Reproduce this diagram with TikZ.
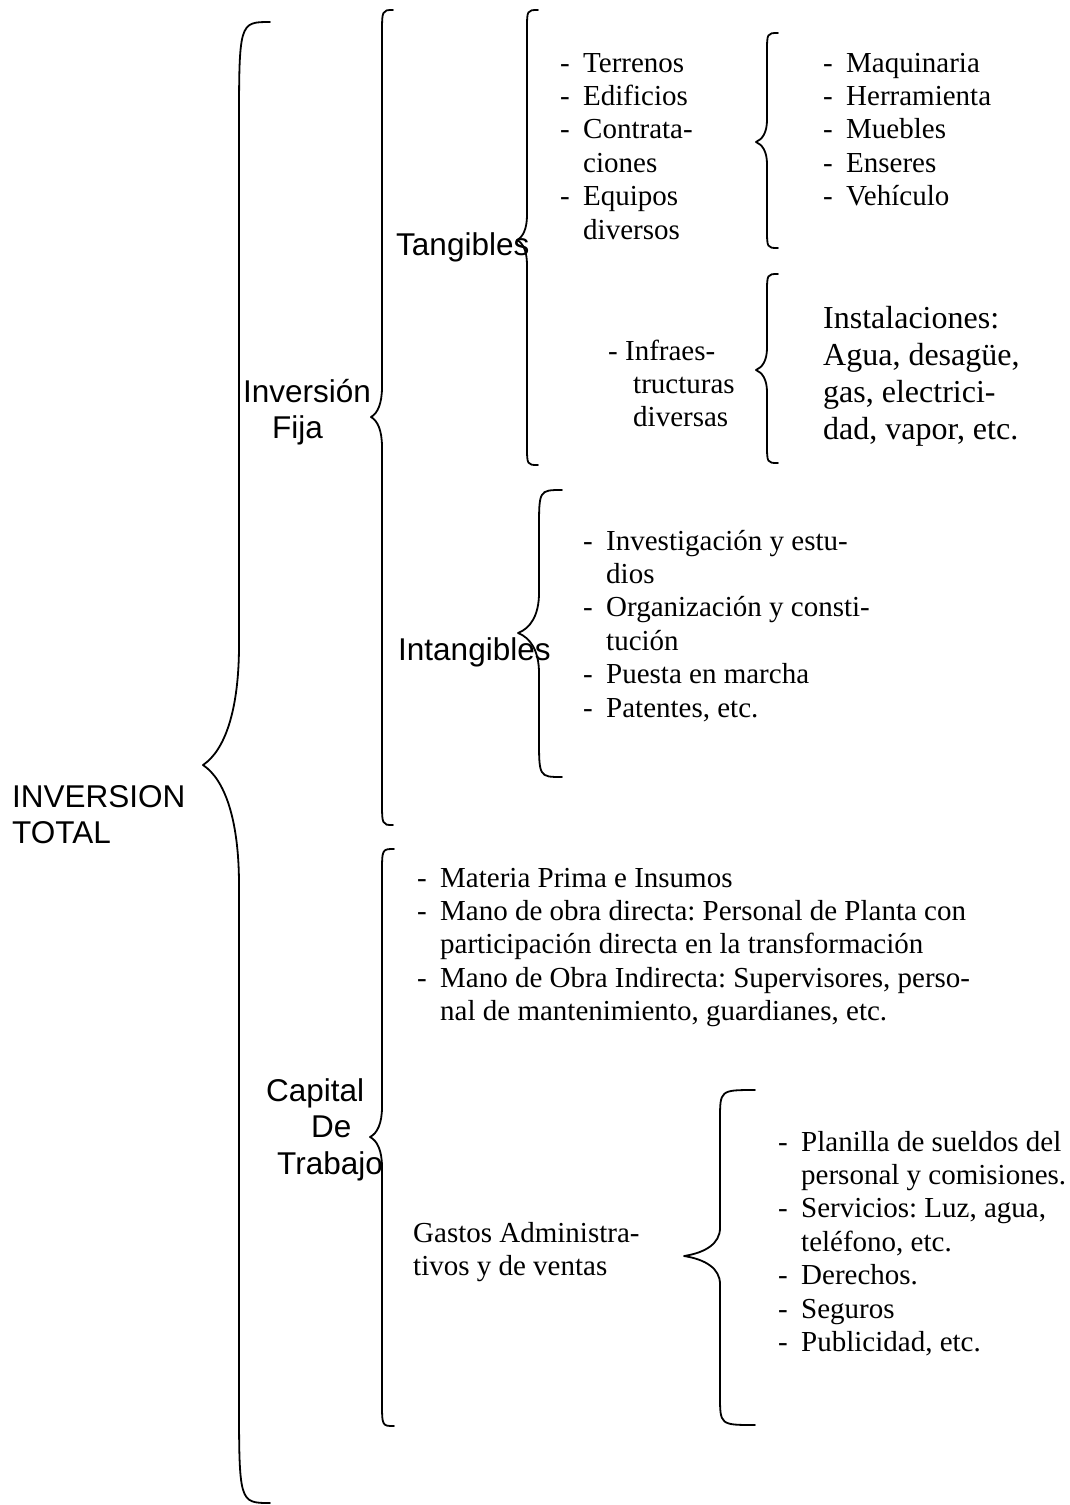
\documentclass[tikz,border=0pt]{standalone}
\usepackage{fontspec}
\setmainfont{Liberation Serif}
\newfontfamily\arialfont{Liberation Sans}
\frenchspacing
% #1 end x, #2 top y, #3 stem x, #4 tip x, #5 tip y, #6 bottom y, #7 end curl, #8 tip curl
\newcommand{\drawbrace}[8]{%
  \draw[brc] (#1,#2) .. controls (#3,#2) .. (#3,{#2+#7})
    -- (#3,{#5-#8}) .. controls (#3,{#5-0.45*#8}) and ({0.6*#3+0.4*#4},{#5-0.12*#8}) .. (#4,#5)
    .. controls ({0.6*#3+0.4*#4},{#5+0.12*#8}) and (#3,{#5+0.45*#8}) .. (#3,{#5+#8})
    -- (#3,{#6-#7}) .. controls (#3,#6) .. (#1,#6);}

\begin{document}
\begin{tikzpicture}[
  x=1pt, y=-1pt,
  brc/.style={line width=1.8pt, line cap=round, line join=round},
  lbl/.style={font=\arialfont\fontsize{31.5}{36.5}\selectfont, inner sep=0, anchor=base west},
  txt/.style={font=\fontsize{29}{33.4}\selectfont, inner sep=0, anchor=base west},
  bigtxt/.style={font=\fontsize{32}{37}\selectfont, inner sep=0, anchor=base west}
]
\useasboundingbox (0,0) rectangle (1070,1505);

\node[lbl] (total) at (12,807) {\begin{tabular}[t]{@{}l@{}}INVERSION\\TOTAL\end{tabular}};
\node[lbl] (fija) at (243,402) {\begin{tabular}[t]{@{}l@{}}Inversión\\\hspace{29pt}Fija\end{tabular}};
\node[lbl] (tang) at (396,255) {Tangibles};
\node[lbl] (intang) at (398,660) {Intangibles};
\node[lbl] (capital) at (266,1101) {\begin{tabular}[t]{@{}l@{}}Capital\\\hspace{45pt}De\\\hspace{11pt}Trabajo\end{tabular}};

\node[txt] (terrenos) at (560,72) {\begin{tabular}[t]{@{}p{23pt}@{}l@{}}
  -&Terrenos\\ -&Edificios\\ -&Contrata-\\ &ciones\\ -&Equipos\\ &diversos\end{tabular}};
\node[txt] (maq) at (823,72) {\begin{tabular}[t]{@{}p{23pt}@{}l@{}}
  -&Maquinaria\\ -&Herramienta\\ -&Muebles\\ -&Enseres\\ -&Vehículo\end{tabular}};
\node[txt] (infra) at (608,360) {\begin{tabular}[t]{@{}l@{}}
  - Infraes-\\ \hspace{25pt}tructuras\\ \hspace{25pt}diversas\end{tabular}};
\node[bigtxt] (inst) at (823,328) {\begin{tabular}[t]{@{}l@{}}
  Instalaciones:\\ Agua, desagüe,\\ gas, electrici-\\ dad, vapor, etc.\end{tabular}};
\node[txt] (intlist) at (583,550) {\begin{tabular}[t]{@{}p{23pt}@{}l@{}}
  -&Investigación y estu-\\ &dios\\ -&Organización y consti-\\ &tución\\
  -&Puesta en marcha\\ -&Patentes, etc.\end{tabular}};
\node[txt] (caplist) at (417,887) {\begin{tabular}[t]{@{}p{23pt}@{}l@{}}
  -&Materia Prima e Insumos\\
  -&Mano de obra directa: Personal de Planta con\\
   &participación directa en la transformación\\
  -&Mano de Obra Indirecta: Supervisores, perso-\\
   &nal de mantenimiento, guardianes, etc.\end{tabular}};
\node[txt] (gastos) at (413,1242) {\begin{tabular}[t]{@{}l@{}}
  Gastos Administra-\\ tivos y de ventas\end{tabular}};
\node[txt] (gaslist) at (778,1151) {\begin{tabular}[t]{@{}p{23pt}@{}l@{}}
  -&Planilla de sueldos del\\ &personal y comisiones.\\
  -&Servicios: Luz, agua,\\ &teléfono, etc.\\
  -&Derechos.\\ -&Seguros\\ -&Publicidad, etc.\end{tabular}};

\drawbrace{270}{22}{239}{203}{765}{1503}{110}{120}
\drawbrace{393}{10}{382}{371}{417}{825}{25}{30}
\drawbrace{538}{10}{527}{517}{240}{465}{20}{25}
\drawbrace{778}{33}{767}{756}{142}{248}{20}{22}
\drawbrace{778}{274}{767}{756}{370}{463}{20}{22}
\drawbrace{562}{490}{539}{518}{633}{777}{40}{40}
\drawbrace{394}{849}{382}{370}{1137}{1426}{25}{30}
\drawbrace{755}{1090}{720}{684}{1256}{1425}{30}{28}
\end{tikzpicture}
\end{document}
